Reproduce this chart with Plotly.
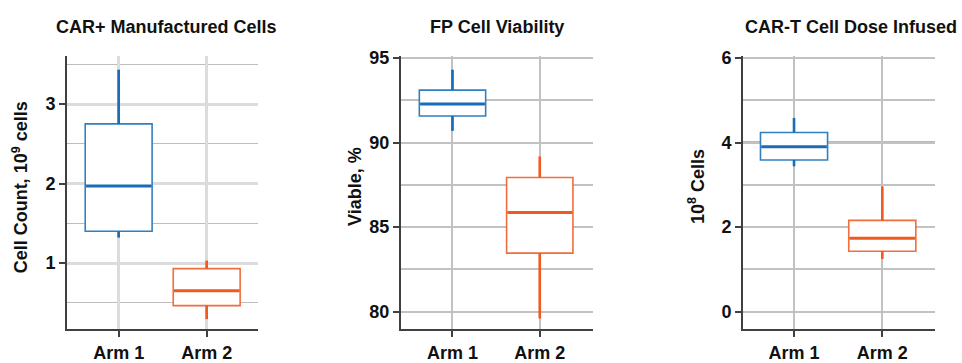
import plotly.graph_objects as go

# ---------------- data ----------------
arms = ["Arm 1", "Arm 2"]
titles = ["CAR+ Manufactured Cells", "FP Cell Viability", "CAR-T Cell Dose Infused"]
ytitles = ["Cell Count, 10<sup>9</sup> cells", "Viable, %", "10<sup>8</sup> Cells"]

car_q1 = [1.40, 0.465]
car_med = [1.97, 0.65]
car_q3 = [2.75, 0.93]
car_low = [1.32, 0.295]
car_high = [3.43, 1.03]

via_q1 = [91.57, 83.46]
via_med = [92.28, 85.87]
via_q3 = [93.10, 87.93]
via_low = [90.70, 79.60]
via_high = [94.30, 89.18]

dose_q1 = [3.59, 1.43]
dose_med = [3.90, 1.74]
dose_q3 = [4.24, 2.16]
dose_low = [3.44, 1.25]
dose_high = [4.58, 2.96]

panels = [
    (car_q1, car_med, car_q3, car_low, car_high),
    (via_q1, via_med, via_q3, via_low, via_high),
    (dose_q1, dose_med, dose_q3, dose_low, dose_high),
]

# ---------------- style ----------------
W, H = 962, 363
BORDER = ["#2f7fc1", "#f26c3c"]
STRONG = ["#1a6cb8", "#f05a1e"]
BOX_W = 0.76
FONT = "Liberation Sans, Arial, sans-serif"
FS = 18

x_px = [(67, 258), (401, 593), (743, 935)]
y_px = (50, 332)
x_ranges = [[-0.587, 1.583], [-0.59, 1.61], [-0.578, 1.597]]
y_ranges = [[0.17, 3.6], [78.97, 95.1], [-0.41, 6.04]]
y_major = [1, 5, 2]
y_minor = [0.5, 2.5, 1]
y_tick0 = [0, 80, 0]

fig = go.Figure()

for p, (q1, med, q3, lo, hi) in enumerate(panels):
    xa = "x" if p == 0 else f"x{p+1}"
    ya = "y" if p == 0 else f"y{p+1}"
    for i in range(len(arms)):
        fig.add_trace(go.Box(
            x=[i], q1=[q1[i]], median=[med[i]], q3=[q3[i]],
            lowerfence=[lo[i]], upperfence=[hi[i]],
            width=BOX_W, whiskerwidth=0, fillcolor="white",
            line=dict(color=BORDER[i], width=1.6),
            xaxis=xa, yaxis=ya, showlegend=False, hoverinfo="skip",
        ))
        # thicker whiskers
        fig.add_trace(go.Scatter(
            x=[i, i, None, i, i], y=[q3[i], hi[i], None, q1[i], lo[i]],
            mode="lines", line=dict(color=STRONG[i], width=2.6),
            xaxis=xa, yaxis=ya, showlegend=False, hoverinfo="skip",
        ))
        # thicker median
        fig.add_trace(go.Scatter(
            x=[i - BOX_W / 2 + 0.01, i + BOX_W / 2 - 0.01], y=[med[i], med[i]],
            mode="lines", line=dict(color=STRONG[i], width=3),
            xaxis=xa, yaxis=ya, showlegend=False, hoverinfo="skip",
        ))

layout = dict(
    width=W, height=H, margin=dict(l=0, r=0, t=0, b=0),
    paper_bgcolor="white", plot_bgcolor="white",
    font=dict(family=FONT, size=FS, color="#111111"),
)

grid_styles = [
    dict(major=("#dcdcdc", 3), minor=("#bdbdbd", 1.3), vert=("#dcdcdc", 3)),
    dict(major=("#c2c2c2", 2), minor=("#c2c2c2", 1.5), vert=("#c2c2c2", 2)),
    dict(major=("#c2c2c2", 2), minor=("#c2c2c2", 1.5), vert=("#c2c2c2", 2)),
]

for p in range(3):
    sx = "xaxis" if p == 0 else f"xaxis{p+1}"
    sy = "yaxis" if p == 0 else f"yaxis{p+1}"
    an_x = "x" if p == 0 else f"x{p+1}"
    an_y = "y" if p == 0 else f"y{p+1}"
    gs = grid_styles[p]
    layout[sx] = dict(
        domain=[x_px[p][0] / W, x_px[p][1] / W], anchor=an_y,
        range=x_ranges[p], tickvals=[0, 1], ticktext=arms,
        showgrid=True, gridcolor=gs["vert"][0], gridwidth=gs["vert"][1],
        showline=True, linecolor="#404040", linewidth=2,
        ticks="outside", ticklen=6, tickwidth=2, tickcolor="#404040",
        tickfont=dict(family=FONT, size=FS, weight="bold", color="#111111"),
        zeroline=False, fixedrange=True,
    )
    layout[sy] = dict(
        domain=[(H - y_px[1]) / H, (H - y_px[0]) / H], anchor=an_x,
        range=y_ranges[p], tick0=y_tick0[p], dtick=y_major[p],
        showgrid=True, gridcolor=gs["major"][0], gridwidth=gs["major"][1],
        minor=dict(dtick=y_minor[p], tick0=y_tick0[p], showgrid=True,
                   gridcolor=gs["minor"][0], gridwidth=gs["minor"][1], ticks=""),
        showline=True, linecolor="#404040", linewidth=2,
        ticks="outside", ticklen=6, tickwidth=2, tickcolor="#404040",
        tickfont=dict(family=FONT, size=FS, weight="bold", color="#111111"),
        zeroline=False, fixedrange=True,
    )

fig.update_layout(**layout)

# special darker/thicker gridlines seen in the reference
fig.add_shape(type="line", xref="x domain", yref="y", x0=0, x1=1, y0=2, y1=2,
              line=dict(color="#b0b0b0", width=2), layer="below")
fig.add_shape(type="line", xref="x3 domain", yref="y3", x0=0, x1=1, y0=4, y1=4,
              line=dict(color="#bbbbbb", width=3), layer="below")

title_x = [166.7, 496.7, 850.5]
for p in range(3):
    fig.add_annotation(
        text=titles[p], x=title_x[p] / W, y=(H - 20) / H, xref="paper", yref="paper",
        xanchor="center", yanchor="middle", showarrow=False,
        font=dict(family=FONT, size=FS, weight="bold", color="#111111"),
    )

ytitle_x = [20, 355, 696.7]
ytitle_y = [185.5, 185, 184.5]
for p in range(3):
    fig.add_annotation(
        text=ytitles[p], x=ytitle_x[p] / W, y=(H - ytitle_y[p]) / H,
        xref="paper", yref="paper", xanchor="center", yanchor="middle",
        textangle=-90, showarrow=False,
        font=dict(family=FONT, size=FS, weight="bold", color="#111111"),
    )

fig.write_html(
    "out.html",
    config={"displayModeBar": False, "responsive": False},
    post_script=(
        "document.documentElement.style.margin='0px';"
        "document.documentElement.style.overflow='hidden';"
        "document.body.style.margin='0px';document.body.style.padding='0px';"
        "document.body.style.overflow='hidden';"
        "var gd=document.getElementById('{plot_id}');"
        "gd.style.position='fixed';gd.style.top='0px';gd.style.left='0px';"
    ),
)
